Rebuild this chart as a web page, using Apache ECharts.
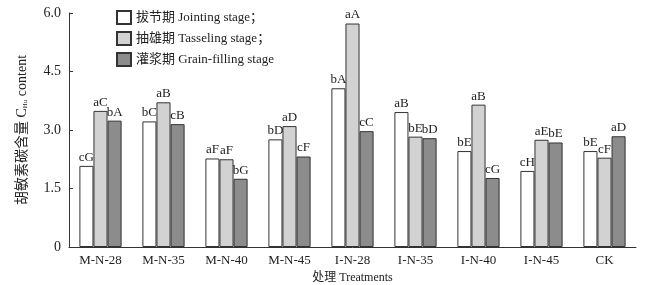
<!DOCTYPE html>
<html>
<head>
<meta charset="utf-8">
<script src="https://cdn.jsdelivr.net/npm/echarts@6/dist/echarts.min.js"></script>
<style>
html, body { margin: 0; padding: 0; background: #fff; }
#chart { width: 656px; height: 285px; }
</style>
</head>
<body>
<div id="chart"></div>
<script>
// 处理
const categories = ['M-N-28', 'M-N-35', 'M-N-40', 'M-N-45', 'I-N-28', 'I-N-35', 'I-N-40', 'I-N-45', 'CK']
// 胡敏素碳含量
const jointing = [2.08, 3.22, 2.27, 2.76, 4.07, 3.46, 2.46, 1.95, 2.46]
const tasseling = [3.49, 3.71, 2.25, 3.10, 5.73, 2.83, 3.65, 2.75, 2.29]
const grainFilling = [3.24, 3.15, 1.75, 2.32, 2.97, 2.79, 1.77, 2.68, 2.84]
// 显著性字母
const jointingSig = ['cG', 'bC', 'aF', 'bD', 'bA', 'aB', 'bE', 'cH', 'bE']
const tasselingSig = ['aC', 'aB', 'aF', 'aD', 'aA', 'bE', 'aB', 'aE', 'cF']
const grainSig = ['bA', 'cB', 'bG', 'cF', 'cC', 'bD', 'cG', 'bE', 'aD']
const yTicks = [0, 1.5, 3.0, 4.5, 6.0]

const serif = "'Liberation Serif', 'Noto Sans CJK SC', serif"

function makeSeries (name, data, sig, color) {
  return {
    name: name,
    type: 'bar',
    data: data,
    barGap: '0%',
    barCategoryGap: '33%',
    itemStyle: { color: color, borderColor: '#333', borderWidth: 1 },
    label: {
      show: true,
      position: 'top',
      distance: 2,
      fontFamily: serif,
      fontSize: 13,
      color: '#222',
      formatter: p => sig[p.dataIndex]
    }
  }
}

var myChart = echarts.init(document.getElementById('chart'))
var option = {
  animation: false,
  backgroundColor: '#fff',
  textStyle: { fontFamily: serif },
  grid: { left: 69, right: 20, top: 13, bottom: 38, outerBoundsMode: 'none', containLabel: false },
  legend: {
    left: 111,
    top: 5,
    orient: 'vertical',
    icon: 'rect',
    itemWidth: 14,
    itemHeight: 13,
    itemGap: 6,
    textStyle: { fontFamily: serif, fontSize: 13, color: '#222' },
    data: ['拔节期 Jointing stage；', '抽雄期 Tasseling stage；', '灌浆期 Grain-filling stage']
  },
  xAxis: {
    type: 'category',
    data: categories,
    name: '处理 Treatments',
    nameLocation: 'middle',
    nameGap: 23,
    nameTextStyle: { fontFamily: serif, fontSize: 12, color: '#222' },
    axisLine: { lineStyle: { color: '#333', width: 1 } },
    axisTick: { inside: true, length: 4, lineStyle: { color: '#333' } },
    axisLabel: { fontFamily: serif, fontSize: 13, color: '#222', margin: 7 }
  },
  yAxis: {
    type: 'value',
    min: 0,
    max: 6,
    interval: 1.5,
    name: '胡敏素碳含量 C{sub|Hu} content',
    nameLocation: 'middle',
    nameGap: 40,
    nameTextStyle: {
      fontFamily: serif,
      fontSize: 14,
      color: '#222',
      rich: { sub: { fontSize: 7, verticalAlign: 'bottom', padding: [5, 0, 0, 0], fontFamily: serif, color: '#222' } }
    },
    axisLine: { show: true, lineStyle: { color: '#333', width: 1 } },
    axisTick: { show: true, inside: true, length: 4, lineStyle: { color: '#333' } },
    splitLine: { show: false },
    axisLabel: {
      fontFamily: serif,
      fontSize: 14,
      color: '#222',
      margin: 8,
      formatter: v => (v === 0 ? '0' : yTicks.find(t => t === v).toFixed(1))
    }
  },
  series: [
    makeSeries('拔节期 Jointing stage；', jointing, jointingSig, '#ffffff'),
    makeSeries('抽雄期 Tasseling stage；', tasseling, tasselingSig, '#d2d2d2'),
    makeSeries('灌浆期 Grain-filling stage', grainFilling, grainSig, '#8c8c8c')
  ]
}
myChart.setOption(option)
</script>
</body>
</html>
